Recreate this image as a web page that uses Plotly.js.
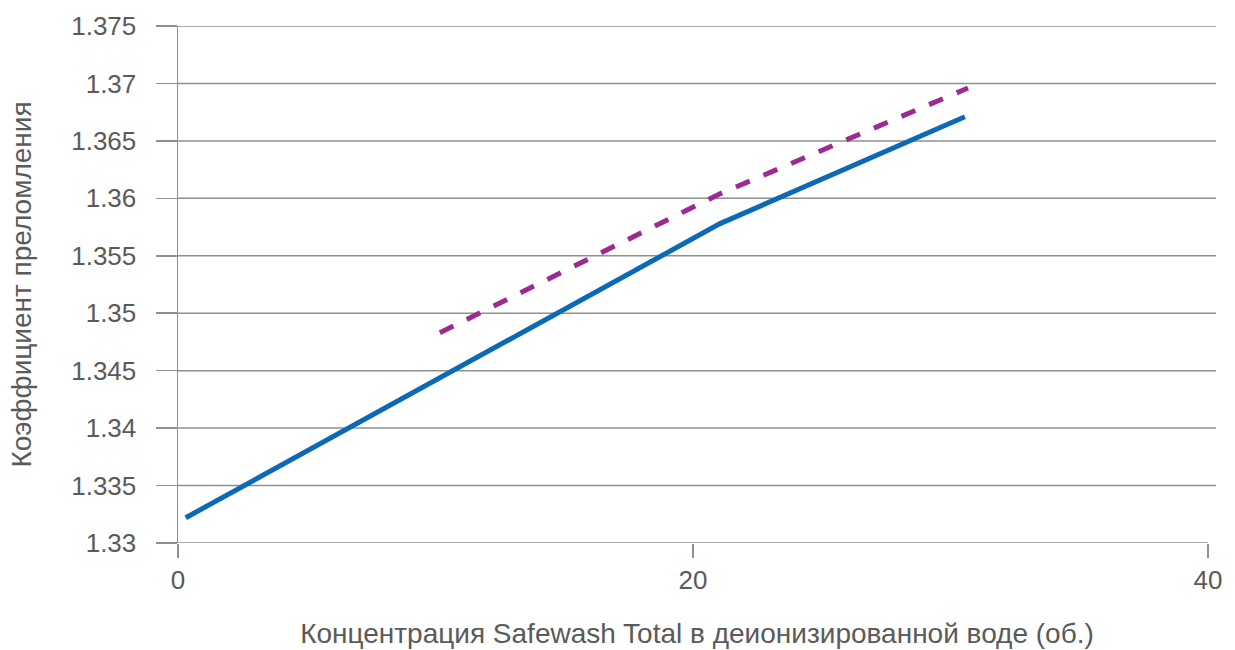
<!DOCTYPE html>
<html>
<head>
<meta charset="utf-8">
<script src="https://cdn.plot.ly/plotly-3.0.1.min.js"></script>
<style>html,body{margin:0;padding:0;background:#fff;}#chart{width:1235px;height:650px;}</style>
</head>
<body>
<div id="chart"></div>
<script>
// Data
const blueX = [0.3, 21.05, 30.56];
const blueY = [1.3322, 1.3578, 1.3671];
const purpleX = [10.17, 21.05, 30.68];
const purpleY = [1.3483, 1.3604, 1.3696];
const xTicks = [0, 20, 40];
const yTicks = [1.33, 1.335, 1.34, 1.345, 1.35, 1.355, 1.36, 1.365, 1.37, 1.375];
const yTickText = ["1.33", "1.335", "1.34", "1.345", "1.35", "1.355", "1.36", "1.365", "1.37", "1.375"];
const xTitle = "Концентрация Safewash Total в деионизированной воде (об.)";
const yTitle = "Коэффициент преломления";

const gridColor = "#8f8f8f";
const textColor = "#5a5a5a";
const font = "Liberation Sans, Arial, sans-serif";

const traces = [
  {x: blueX, y: blueY, type: "scatter", mode: "lines",
   line: {color: "#0b69b6", width: 5}, hoverinfo: "skip", cliponaxis: false},
  {x: purpleX, y: purpleY, type: "scatter", mode: "lines",
   line: {color: "#9c2a92", width: 5, dash: "dash"}, hoverinfo: "skip", cliponaxis: false}
];

// horizontal grid lines: full width, except the bottom one which stops at the last x tick
const shapes = yTicks.map((v, i) => (i === 0
  ? {type: "line", xref: "x", yref: "y", x0: xTicks[0], x1: xTicks[xTicks.length - 1], y0: v, y1: v,
     line: {color: gridColor, width: 1.5}, layer: "below"}
  : {type: "line", xref: "paper", yref: "y", x0: 0, x1: 1, y0: v, y1: v,
     line: {color: gridColor, width: 1.5}, layer: "below"}));

const layout = {
  width: 1235, height: 650,
  margin: {l: 178, r: 19, t: 26, b: 107, pad: 0},
  paper_bgcolor: "#ffffff", plot_bgcolor: "#ffffff",
  showlegend: false,
  font: {family: font, color: textColor, size: 26},
  xaxis: {
    range: [0, 40 * 1038 / 1030],
    tickvals: xTicks,
    ticks: "outside", ticklen: 14, tickwidth: 1.5, tickcolor: gridColor,
    showgrid: false, zeroline: false, showline: false,
    tickfont: {size: 26, color: textColor, family: font},
    title: {text: xTitle, font: {size: 28, color: textColor, family: font}, standoff: 29}
  },
  yaxis: {
    range: [yTicks[0], yTicks[yTicks.length - 1]],
    tickvals: yTicks, ticktext: yTickText,
    ticks: "outside", ticklen: 21, tickwidth: 1.5, tickcolor: gridColor,
    ticklabelstandoff: 14,
    showgrid: false,
    zeroline: false,
    showline: true, linecolor: gridColor, linewidth: 1.5,
    tickfont: {size: 26, color: textColor, family: font},
    title: {text: yTitle, font: {size: 28, color: textColor, family: font}, standoff: 31}
  },
  shapes: shapes
};

Plotly.newPlot("chart", traces, layout, {displayModeBar: false, staticPlot: true});
</script>
</body>
</html>
